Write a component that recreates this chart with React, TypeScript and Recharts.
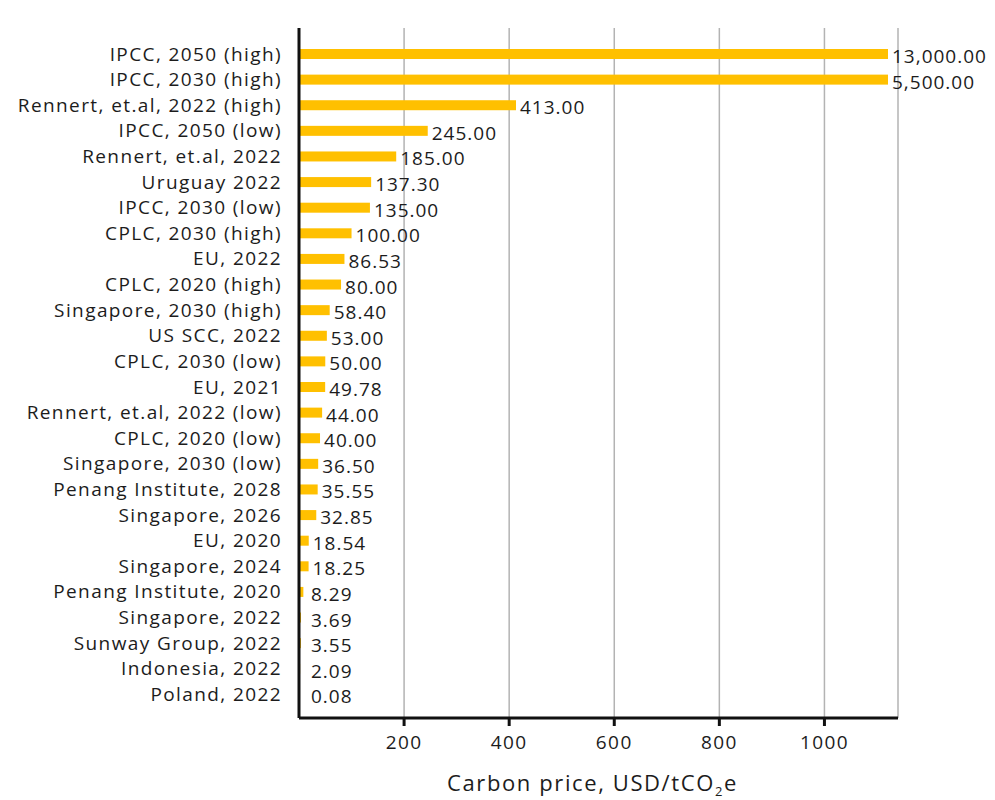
import React from "react";
import {
  BarChart,
  Bar,
  XAxis,
  YAxis,
  CartesianGrid,
  LabelList,
} from "recharts";

const CATEGORIES = [
  "IPCC, 2050 (high)",
  "IPCC, 2030 (high)",
  "Rennert, et.al, 2022 (high)",
  "IPCC, 2050 (low)",
  "Rennert, et.al, 2022",
  "Uruguay 2022",
  "IPCC, 2030 (low)",
  "CPLC, 2030 (high)",
  "EU, 2022",
  "CPLC, 2020 (high)",
  "Singapore, 2030 (high)",
  "US SCC, 2022",
  "CPLC, 2030 (low)",
  "EU, 2021",
  "Rennert, et.al, 2022 (low)",
  "CPLC, 2020 (low)",
  "Singapore, 2030 (low)",
  "Penang Institute, 2028",
  "Singapore, 2026",
  "EU, 2020",
  "Singapore, 2024",
  "Penang Institute, 2020",
  "Singapore, 2022",
  "Sunway Group, 2022",
  "Indonesia, 2022",
  "Poland, 2022",
];

const PRICES = [
  13000, 5500, 413, 245, 185, 137.3, 135, 100, 86.53, 80, 58.4, 53, 50,
  49.78, 44, 40, 36.5, 35.55, 32.85, 18.54, 18.25, 8.29, 3.69, 3.55, 2.09,
  0.08,
];

const X_TICKS = [200, 400, 600, 800, 1000];
const X_MAX = 1140;

const data = CATEGORIES.map((name, i) => ({ name, price: PRICES[i] }));

const FONT = "'Open Sans', sans-serif";
const TEXT = "#1c1c1c";
const GOLD = "#FFC000";

const WIDTH = 987;
const HEIGHT = 792;
const MARGIN = { top: 20, right: 97, bottom: 22, left: 0 };
const Y_WIDTH = 291;
const PLOT_W = WIDTH - MARGIN.right - MARGIN.left - Y_WIDTH;
// bars past the axis end are cut short, like a broken axis
const BAR_CAP = PLOT_W - 10;

const tickStyle = { fill: TEXT, fontSize: 19, fontFamily: FONT, letterSpacing: 1.4 };

const fmt = (v: number) =>
  v.toLocaleString("en-US", { minimumFractionDigits: 2, maximumFractionDigits: 2 });

// eslint-disable-next-line @typescript-eslint/no-explicit-any
function CappedBar(props: any) {
  const { x = 0, y = 0, width = 0, height = 0, fill } = props;
  return <rect x={x} y={y} width={Math.min(width, BAR_CAP)} height={height} fill={fill} />;
}

// eslint-disable-next-line @typescript-eslint/no-explicit-any
function ValueLabel(props: any) {
  const { x = 0, y = 0, width = 0, height = 0, value = 0 } = props;
  const end = x + Math.min(width, BAR_CAP);
  return (
    <text
      x={Math.max(end + 4, x + 12)}
      y={y + height / 2 + 2}
      fill={TEXT}
      fontSize={19}
      fontFamily={FONT}
      letterSpacing={1}
      dominantBaseline="central"
    >
      {fmt(value)}
    </text>
  );
}

// eslint-disable-next-line @typescript-eslint/no-explicit-any
function AxisTitle(props: any) {
  const { viewBox } = props;
  const cx = viewBox.x + viewBox.width / 2 - 6;
  return (
    <text
      x={cx}
      y={viewBox.y + 73}
      textAnchor="middle"
      fill={TEXT}
      fontSize={22}
      fontFamily={FONT}
      letterSpacing={1.6}
    >
      Carbon price, USD/tCO
      <tspan fontSize={13} dy={5}>2</tspan>
      <tspan dy={-5}>e</tspan>
    </text>
  );
}

export default function App() {
  return (
    <div style={{ width: WIDTH, height: HEIGHT, background: "#fff" }}>
      <BarChart
        width={WIDTH}
        height={HEIGHT}
        data={data}
        layout="vertical"
        margin={MARGIN}
        barSize={10}
      >
        <CartesianGrid horizontal={false} stroke="#b3b3b3" strokeWidth={1.5} />
        <XAxis
          type="number"
          domain={[0, X_MAX]}
          ticks={X_TICKS}
          allowDataOverflow
          height={60}
          stroke="#111"
          strokeWidth={3}
          tickSize={8}
          tickMargin={10}
          tick={tickStyle}
          label={<AxisTitle />}
        />
        <YAxis
          type="category"
          dataKey="name"
          width={Y_WIDTH}
          padding={{ top: 13, bottom: 11 }}
          stroke="#111"
          strokeWidth={3}
          tickLine={false}
          tickMargin={11}
          interval={0}
          tick={tickStyle}
        />
        <Bar dataKey="price" fill={GOLD} shape={<CappedBar />} isAnimationActive={false}>
          <LabelList dataKey="price" content={<ValueLabel />} />
        </Bar>
      </BarChart>
    </div>
  );
}
